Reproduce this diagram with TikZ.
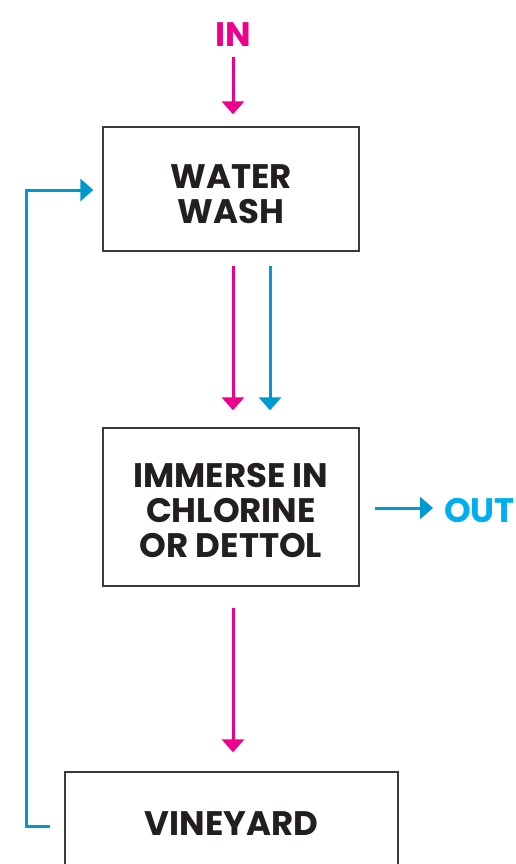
\documentclass[tikz,border=0pt]{standalone}
\usepackage{fontspec}
\setmainfont{Poppins}
\usetikzlibrary{arrows.meta}
\definecolor{mag}{HTML}{EC008C}
\definecolor{cyanline}{HTML}{0099CF}
\definecolor{cyantext}{HTML}{00AEEF}
\definecolor{boxline}{HTML}{3A3A3A}
\definecolor{textdark}{HTML}{231F20}
\tikzset{
  stage/.style={draw=boxline, line width=1.3pt, minimum width=256pt, align=center,
    text=textdark, font=\fontsize{34}{35}\selectfont\bfseries, inner sep=0pt},
  flowarrow/.style={line width=3pt, -{Triangle[width=22pt,length=13pt]}},
  magflow/.style={flowarrow, draw=mag},
  cyanflow/.style={flowarrow, draw=cyanline},
  tag/.style={font=\fontsize{34}{35}\selectfont\bfseries, inner sep=0pt}
}
\begin{document}
\begin{tikzpicture}[x=1pt,y=-1pt]
\useasboundingbox (0,0) rectangle (516,864);
\clip (0,0) rectangle (516,864);
\node[tag, text=mag] (in) at (233,35) {IN};
\node[stage, minimum height=124pt] (ww) at (231,189) {\rule{0pt}{35pt}WATER\\WASH};
\node[stage, minimum height=158pt] (im) at (231,507) {\rule{0pt}{31pt}IMMERSE IN\\CHLORINE\\OR DETTOL};
\node[stage, minimum width=333pt, minimum height=104pt] (vy) at (231.5,824) {VINEYARD};
\node[tag, text=cyantext, anchor=west] (out) at (444,511) {OUT};
\coordinate (inS) at (233,57);
\coordinate (wwS1) at (233,266);
\coordinate (wwS2) at (270,266);
\coordinate (imS) at (233,608);
\coordinate (imE) at (375,508);
\coordinate (fbA) at (50,826);
\coordinate (fbB) at (26,826);
\coordinate (fbC) at (26,190);
\draw[magflow] (inS) -- ([yshift=12pt]ww.north -| inS);
\draw[magflow] (wwS1) -- ([yshift=17pt]im.north -| wwS1);
\draw[cyanflow] (wwS2) -- ([yshift=17pt]im.north -| wwS2);
\draw[magflow] (imS) -- ([yshift=19pt]vy.north -| imS);
\draw[cyanflow] (imE) -- ([xshift=-11pt]out.west |- imE);
\draw[cyanflow] (fbA) -- (fbB) -- (fbC) -- ([xshift=-9pt]ww.west |- fbC);
\end{tikzpicture}
\end{document}
